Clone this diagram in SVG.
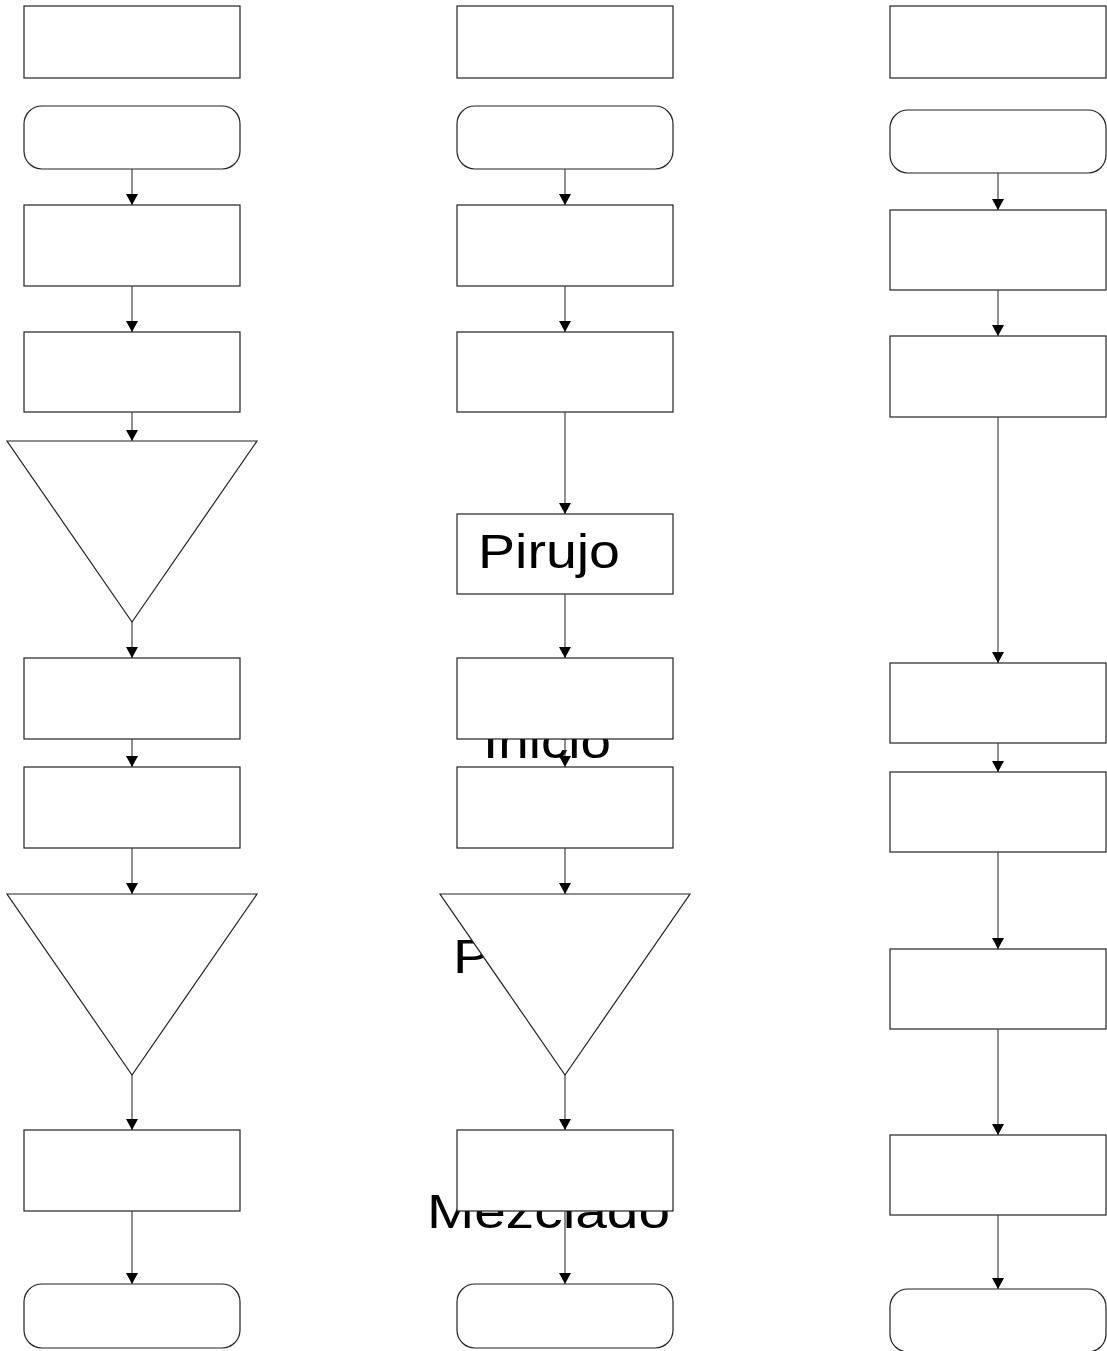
<svg xmlns="http://www.w3.org/2000/svg" width="1107" height="1351" viewBox="0 0 1107 1351">
<defs>
<style>
.n{fill:#fff;stroke:#222;stroke-width:1.2}
.c{stroke:#444;stroke-width:1.2;fill:none}
.t{font-family:"Liberation Sans",Arial,sans-serif;font-size:49px;fill:#000}
</style>
<marker id="ah" markerWidth="11" markerHeight="12" refX="11" refY="6" orient="auto" markerUnits="userSpaceOnUse">
<path d="M0,0 L11,6 L0,12 Z" fill="#000"/>
</marker>
</defs>
<rect width="1107" height="1351" fill="#fff"/>
<g id="texts">
<text class="t" x="483" y="758" textLength="128" lengthAdjust="spacingAndGlyphs">Inicio</text>
<text class="t" x="453" y="973" textLength="190" lengthAdjust="spacingAndGlyphs">Pesado</text>
<text class="t" x="427" y="1228" textLength="243" lengthAdjust="spacingAndGlyphs">Mezclado</text>
</g>
<g id="col1">
<rect id="a1" class="n" x="24" y="6" width="216" height="72"/>
<rect id="a2" class="n" x="24" y="106" width="216" height="63" rx="18"/>
<rect id="a3" class="n" x="24" y="205" width="216" height="81"/>
<rect id="a4" class="n" x="24" y="332" width="216" height="80"/>
<polygon id="a5" class="n" points="7,441 257,441 132,622"/>
<rect id="a6" class="n" x="24" y="658" width="216" height="81"/>
<rect id="a7" class="n" x="24" y="767" width="216" height="81"/>
<polygon id="a8" class="n" points="7,894 257,894 132,1075"/>
<rect id="a9" class="n" x="24" y="1130" width="216" height="81"/>
<rect id="a10" class="n" x="24" y="1284" width="216" height="64" rx="18"/>
</g>
<g id="col2">
<rect id="b1" class="n" x="457" y="6" width="216" height="72"/>
<rect id="b2" class="n" x="457" y="106" width="216" height="63" rx="18"/>
<rect id="b3" class="n" x="457" y="205" width="216" height="81"/>
<rect id="b4" class="n" x="457" y="332" width="216" height="80"/>
<g id="b5"><rect class="n" x="457" y="514" width="216" height="80"/>
<text class="t" x="478" y="568" textLength="142" lengthAdjust="spacingAndGlyphs">Pirujo</text></g>
<rect id="b6" class="n" x="457" y="658" width="216" height="81"/>
<rect id="b7" class="n" x="457" y="767" width="216" height="81"/>
<polygon id="b8" class="n" points="440,894 690,894 565,1075"/>
<rect id="b9" class="n" x="457" y="1130" width="216" height="81"/>
<rect id="b10" class="n" x="457" y="1284" width="216" height="64" rx="18"/>
</g>
<g id="col3">
<rect id="c1" class="n" x="890" y="6" width="216" height="72"/>
<rect id="c2" class="n" x="890" y="110" width="216" height="63" rx="18"/>
<rect id="c3" class="n" x="890" y="210" width="216" height="80"/>
<rect id="c4" class="n" x="890" y="336" width="216" height="81"/>
<rect id="c5" class="n" x="890" y="663" width="216" height="80"/>
<rect id="c6" class="n" x="890" y="772" width="216" height="80"/>
<rect id="c7" class="n" x="890" y="949" width="216" height="80"/>
<rect id="c8" class="n" x="890" y="1135" width="216" height="80"/>
<rect id="c9" class="n" x="890" y="1289" width="216" height="63" rx="18"/>
</g>
<g id="connectors">
<line class="c" x1="132" y1="169" x2="132" y2="205" marker-end="url(#ah)"/>
<line class="c" x1="132" y1="286" x2="132" y2="332" marker-end="url(#ah)"/>
<line class="c" x1="132" y1="412" x2="132" y2="441" marker-end="url(#ah)"/>
<line class="c" x1="132" y1="622" x2="132" y2="658" marker-end="url(#ah)"/>
<line class="c" x1="132" y1="739" x2="132" y2="767" marker-end="url(#ah)"/>
<line class="c" x1="132" y1="848" x2="132" y2="894" marker-end="url(#ah)"/>
<line class="c" x1="132" y1="1075" x2="132" y2="1130" marker-end="url(#ah)"/>
<line class="c" x1="132" y1="1211" x2="132" y2="1284" marker-end="url(#ah)"/>
<line class="c" x1="565" y1="169" x2="565" y2="205" marker-end="url(#ah)"/>
<line class="c" x1="565" y1="286" x2="565" y2="332" marker-end="url(#ah)"/>
<line class="c" x1="565" y1="412" x2="565" y2="514" marker-end="url(#ah)"/>
<line class="c" x1="565" y1="594" x2="565" y2="658" marker-end="url(#ah)"/>
<line class="c" x1="565" y1="739" x2="565" y2="767" marker-end="url(#ah)"/>
<line class="c" x1="565" y1="848" x2="565" y2="894" marker-end="url(#ah)"/>
<line class="c" x1="565" y1="1075" x2="565" y2="1130" marker-end="url(#ah)"/>
<line class="c" x1="565" y1="1211" x2="565" y2="1284" marker-end="url(#ah)"/>
<line class="c" x1="998" y1="173" x2="998" y2="210" marker-end="url(#ah)"/>
<line class="c" x1="998" y1="290" x2="998" y2="336" marker-end="url(#ah)"/>
<line class="c" x1="998" y1="417" x2="998" y2="663" marker-end="url(#ah)"/>
<line class="c" x1="998" y1="743" x2="998" y2="772" marker-end="url(#ah)"/>
<line class="c" x1="998" y1="852" x2="998" y2="949" marker-end="url(#ah)"/>
<line class="c" x1="998" y1="1029" x2="998" y2="1135" marker-end="url(#ah)"/>
<line class="c" x1="998" y1="1215" x2="998" y2="1289" marker-end="url(#ah)"/>
</g>
</svg>
